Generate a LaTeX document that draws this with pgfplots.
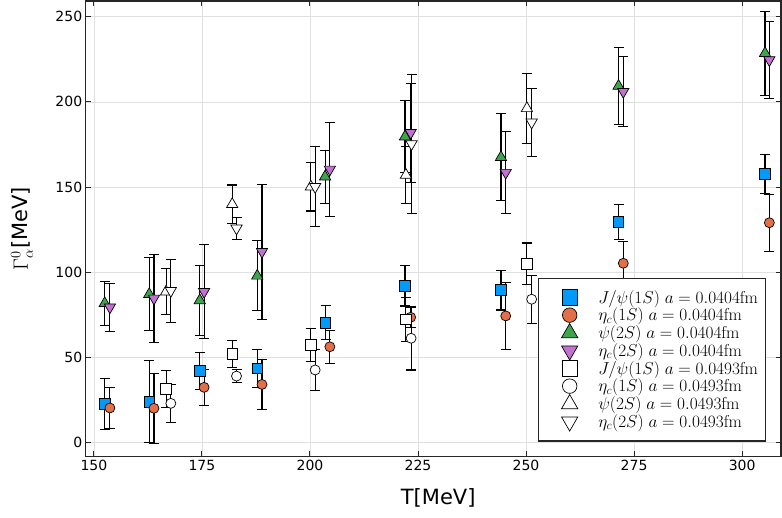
\documentclass[border=0pt]{standalone}
\usepackage{pgfplots}
\usepackage{pgfplotstable}
\pgfplotsset{compat=1.18}
\usepackage[no-math]{fontspec}
\setmainfont{DejaVu Sans}
\definecolor{c1}{HTML}{009AFA}
\definecolor{c2}{HTML}{E36F47}
\definecolor{c3}{HTML}{3EA44E}
\definecolor{c4}{HTML}{C271D2}

\pgfplotstableread{
T G E
152.5 22.7 15
162.8 24.1 24
174.5 42.0 11
187.8 43.6 11
203.6 70.4 10
222.0 92.2 12
244.2 89.6 11.7
271.4 129.7 10.3
305.3 157.7 11.4
}\tA
\pgfplotstableread{
T G E
153.7 20.4 12
163.9 20.2 20.5
175.5 32.5 10.7
188.9 34.2 14.5
204.6 56.3 9.8
223.3 73.6 6
245.3 74.4 19.5
272.5 105.3 13
306.3 129.1 16.7
}\tB
\pgfplotstableread{
T G E
152.5 81.8 13
162.8 87.1 21.5
174.5 83.5 20.5
187.8 97.9 20.5
203.5 156.1 15.6
222.0 179.6 21
244.2 167.5 25.5
271.4 209.3 22.5
305.3 228.5 24.5
}\tC
\pgfplotstableread{
T G E
153.7 79.5 14
163.9 84.7 26
175.5 88.6 27.5
188.9 112.1 39.6
204.6 160.4 27.5
223.3 181.9 29
245.3 158.5 24
272.5 206.0 20.7
306.3 224.6 22.7
}\tD
\pgfplotstableread{
T G E
166.7 31.5 11
182.0 52.1 8
200.2 57.3 9.5
222.2 72.4 13
250.2 104.9 12.3
}\tE
\pgfplotstableread{
T G E
167.8 23.1 11
183.0 39.1 3.7
201.2 42.7 12
223.4 61.3 18.6
251.3 84.2 14
}\tF
\pgfplotstableread{
T G E
166.7 88.6 13.5
182.0 139.9 11.3
200.2 150.2 14.2
222.2 157.1 16.5
250.2 196.2 20.4
}\tG
\pgfplotstableread{
T G E
167.8 89.2 18.5
183.0 125.8 6.3
201.2 150.2 23.5
223.5 175.3 40.9
251.3 188.0 20
}\tH

\pgfplotsset{
  ser/.style={only marks, draw=black, mark options={line width=0.7pt, draw=black},
    error bars/y dir=both, error bars/y explicit},
  legend image code/.code={%
    \path[draw=none,fill=none] (0pt,-5pt) rectangle (53pt,5pt);
    \path[#1,draw=none,every mark/.append style={scale=1.45,draw=black,line width=0.7pt}] plot coordinates {(26.4pt,0pt)};}
}

\begin{document}
\begin{tikzpicture}
\begin{axis}[
  at={(85.7pt,60.3pt)}, anchor=south west,
  scale only axis, width=695.3pt, height=455.7pt,
  xmin=148.1, xmax=309.0, ymin=-8.2, ymax=259.2,
  xtick={150,175,...,300}, ytick={0,50,...,250},
  tick align=inside, xtick pos=both, ytick pos=both,
  grid=major, major grid style={black!12, line width=0.7pt},
  axis line style={black!85, line width=1.2pt},
  major tick style={black!85, line width=1pt}, major tick length=5.5pt,
  tick label style={font=\fontsize{14}{16}\selectfont},
  /pgf/number format/assume math mode=true,
  xlabel={T[MeV]}, ylabel={$\Gamma^0_\alpha$[MeV]},
  label style={font=\fontsize{21}{24}\selectfont},
  xlabel style={at={(axis description cs:0.507,-0.0906)}, anchor=center},
  ylabel style={at={(axis description cs:-0.0916,0.5)}, anchor=center},
  error bars/error bar style={black, line width=1.1pt},
  error bars/error mark options={black, line width=1.1pt, mark size=5pt, rotate=90},
  legend style={at={(0.978,0.033)}, anchor=south east, draw=black!85, line width=1.2pt,
    font=\fontsize{16.8}{18}\selectfont, row sep=-0.8pt, inner xsep=5pt, inner ysep=10pt},
  legend cell align=left,
]
\addplot[ser, mark=square*, mark size=5.3pt, fill=c1] table[x=T,y=G,y error=E]{\tA};
\addlegendentry{$J/\psi(1S)\;a=0.0404\mathrm{fm}$}
\addplot[ser, mark=*, mark size=5pt, fill=c2] table[x=T,y=G,y error=E]{\tB};
\addlegendentry{$\eta_c(1S)\;a=0.0404\mathrm{fm}$}
\addplot[ser, mark=triangle*, mark size=6.5pt, fill=c3] table[x=T,y=G,y error=E]{\tC};
\addlegendentry{$\psi(2S)\;a=0.0404\mathrm{fm}$}
\addplot[ser, mark=triangle*, mark size=6.5pt, fill=c4, every mark/.append style={rotate=180}] table[x=T,y=G,y error=E]{\tD};
\addlegendentry{$\eta_c(2S)\;a=0.0404\mathrm{fm}$}
\addplot[ser, mark=square*, mark size=5.3pt, fill=white] table[x=T,y=G,y error=E]{\tE};
\addlegendentry{$J/\psi(1S)\;a=0.0493\mathrm{fm}$}
\addplot[ser, mark=*, mark size=5pt, fill=white] table[x=T,y=G,y error=E]{\tF};
\addlegendentry{$\eta_c(1S)\;a=0.0493\mathrm{fm}$}
\addplot[ser, mark=triangle*, mark size=6.5pt, fill=white] table[x=T,y=G,y error=E]{\tG};
\addlegendentry{$\psi(2S)\;a=0.0493\mathrm{fm}$}
\addplot[ser, mark=triangle*, mark size=6.5pt, fill=white, every mark/.append style={rotate=180}] table[x=T,y=G,y error=E]{\tH};
\addlegendentry{$\eta_c(2S)\;a=0.0493\mathrm{fm}$}
\end{axis}
\pgfresetboundingbox
\path[use as bounding box] (0,0) rectangle (782pt,517pt);
\end{tikzpicture}
\end{document}
